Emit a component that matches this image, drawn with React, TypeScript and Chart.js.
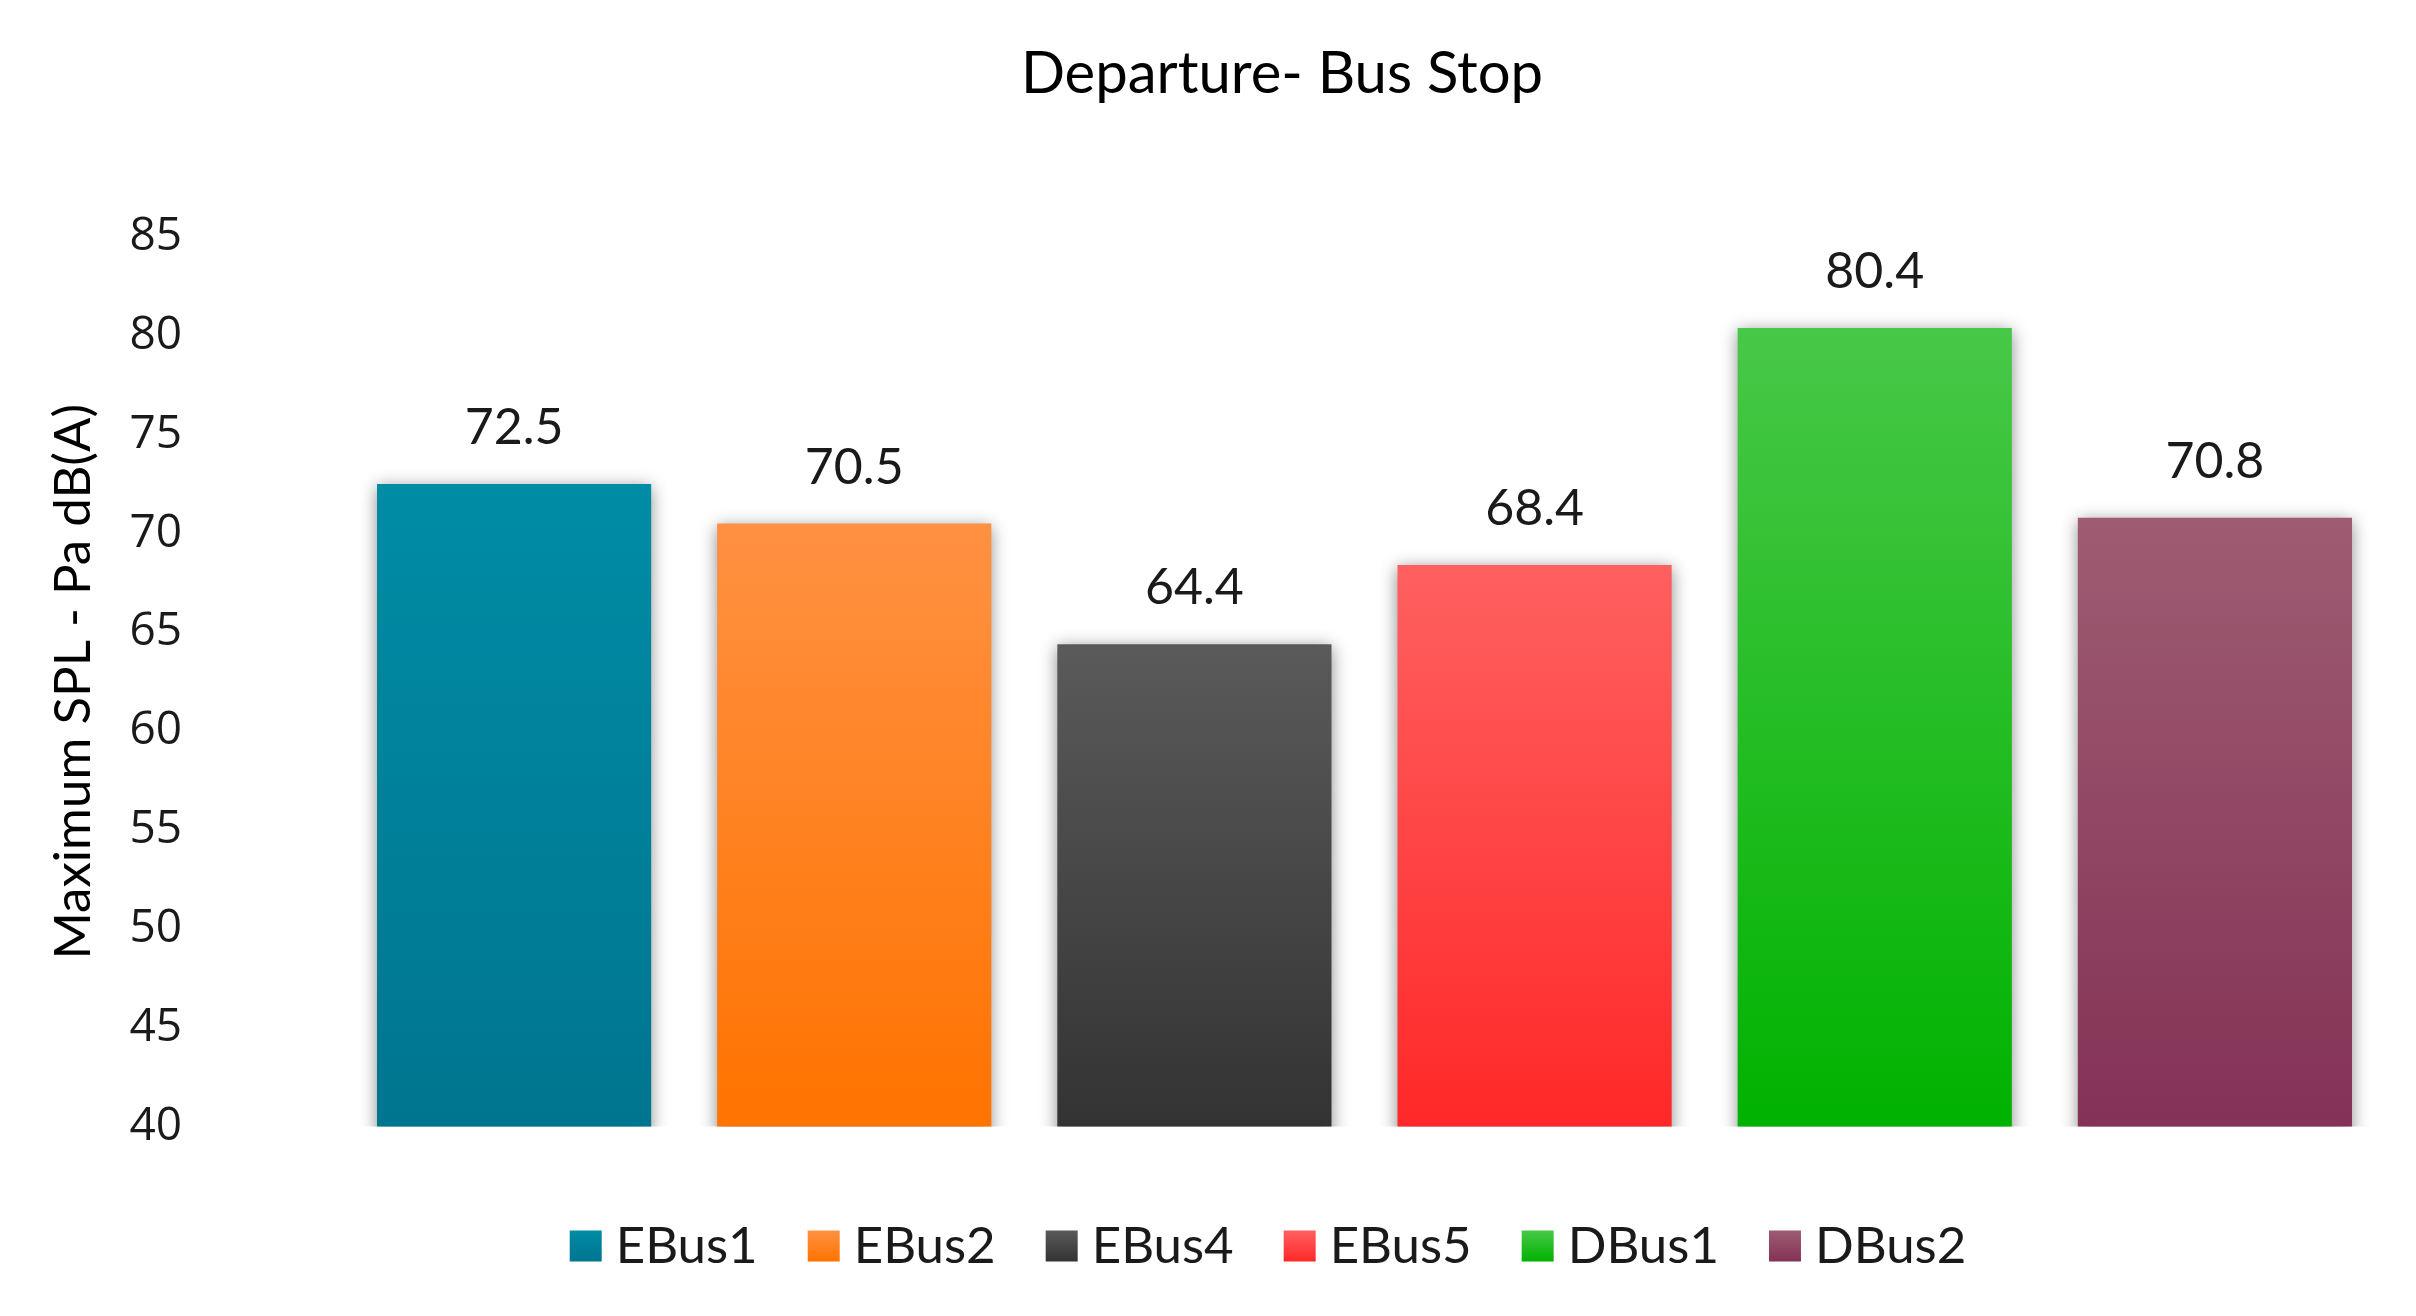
import React, { useEffect, useRef } from "react";
import { Chart, registerables } from "chart.js";

Chart.register(...registerables);

const categories = ["EBus1", "EBus2", "EBus4", "EBus5", "DBus1", "DBus2"];
const values = [72.5, 70.5, 64.4, 68.4, 80.4, 70.8];
const topColors = ["#008CA5", "#FF9142", "#5A5A5A", "#FF6060", "#48C848", "#9E5C72"];
const bottomColors = ["#007590", "#FF7300", "#333333", "#FF2828", "#00B200", "#843255"];
const legendColors = ["#007F98", "#FF8018", "#444444", "#FF3C3C", "#10BC10", "#8A4060"];
const yTicks = [40, 45, 50, 55, 60, 65, 70, 75, 80, 85];

const chartTitle = "Departure- Bus Stop";
const yTitle = "Maximum SPL - Pa dB(A)";

const NARROW = "Lato, 'Open Sans', sans-serif";
const TICKFONT = "'Open Sans', 'Noto Sans', sans-serif";

export default function App() {
  const ref = useRef<HTMLCanvasElement | null>(null);

  useEffect(() => {
    document.body.style.margin = "0";
    document.body.style.overflow = "hidden";
    const canvas = ref.current;
    if (!canvas) return;

    const shadowPlugin = {
      id: "barShadow",
      beforeDatasetsDraw(chart: any) {
        const c = chart.ctx;
        c.save();
        c.shadowColor = "rgba(0,0,0,0.45)";
        c.shadowBlur = 16;
        c.shadowOffsetX = 0;
        c.shadowOffsetY = 3;
      },
      afterDatasetsDraw(chart: any) {
        chart.ctx.restore();
      },
    };

    const labelPlugin = {
      id: "valueLabels",
      afterDraw(chart: any) {
        const c = chart.ctx;
        const meta = chart.getDatasetMeta(0);
        c.save();
        c.font = `50px ${NARROW}`;
        c.fillStyle = "#1a1a1a";
        c.textAlign = "center";
        c.textBaseline = "middle";
        meta.data.forEach((bar: any, i: number) => {
          c.fillText(values[i].toFixed(1), bar.x, bar.y - 56);
        });
        c.restore();
      },
    };

    // Title and legend drawn in the spaces reserved by layout padding
    const titleLegendPlugin = {
      id: "titleLegend",
      afterDraw(chart: any) {
        const c = chart.ctx;
        c.save();
        c.fillStyle = "#000";
        c.font = `58px ${NARROW}`;
        c.textAlign = "center";
        c.textBaseline = "middle";
        c.fillText(chartTitle, 1282, 74);

        c.font = `51px ${NARROW}`;
        c.textAlign = "left";
        const box = 32;
        const boxH = 31;
        const gap = 14;
        const spacing = 50;
        const widths = categories.map((t) => c.measureText(t).width);
        const total =
          widths.reduce((a, w) => a + box + gap + w, 0) + spacing * (categories.length - 1);
        let x = 1268 - total / 2;
        const cy = 1246;
        categories.forEach((t, i) => {
          const g = c.createLinearGradient(0, cy - boxH / 2, 0, cy + boxH / 2);
          g.addColorStop(0, topColors[i]);
          g.addColorStop(1, bottomColors[i]);
          c.fillStyle = g;
          c.fillRect(x, cy - boxH / 2, box, boxH);
          c.fillStyle = "#1a1a1a";
          c.fillText(t, x + box + gap, cy + 1);
          x += box + gap + widths[i] + spacing;
        });
        c.restore();
      },
    };

    const chart = new Chart(canvas, {
      type: "bar",
      data: {
        labels: categories,
        datasets: [
          {
            data: values,
            backgroundColor: (ctx: any) => {
              const ch = ctx.chart;
              const i = ctx.dataIndex;
              if (!ch.chartArea || i === undefined) return legendColors[i ?? 0];
              const y = ch.scales.y;
              const top = y.getPixelForValue(values[i]);
              const bot = y.getPixelForValue(yTicks[0]);
              const g = ch.ctx.createLinearGradient(0, top, 0, bot);
              g.addColorStop(0, topColors[i]);
              g.addColorStop(1, bottomColors[i]);
              return g;
            },
            borderWidth: 0,
            categoryPercentage: 1,
            barPercentage: 0.806,
          },
        ],
      },
      options: {
        animation: false,
        responsive: true,
        maintainAspectRatio: false,
        layout: { padding: { left: 0, right: 31, top: 237, bottom: 148 } },
        plugins: {
          tooltip: { enabled: false },
          title: { display: false },
          legend: { display: false },
        },
        scales: {
          x: {
            display: true,
            grid: { display: false, drawTicks: false },
            border: { display: false },
            ticks: { display: false },
            afterFit: (s: any) => {
              s.height = 40;
            },
          },
          y: {
            min: 40,
            max: 85,
            grid: { display: false, drawTicks: false },
            border: { display: false },
            ticks: {
              stepSize: 5,
              padding: 162,
              color: "#1a1a1a",
              font: { family: TICKFONT, size: 46 },
            },
            title: {
              display: true,
              text: yTitle,
              color: "#000",
              font: { family: NARROW, size: 51 },
              padding: { top: 43, bottom: 0 },
            },
            afterFit: (s: any) => {
              s.width = 344;
            },
          },
        },
      },
      plugins: [shadowPlugin, labelPlugin, titleLegendPlugin],
    } as any);

    return () => chart.destroy();
  }, []);

  return (
    <div style={{ width: 2416, height: 1316, position: "relative" }}>
      <canvas ref={ref} />
    </div>
  );
}
